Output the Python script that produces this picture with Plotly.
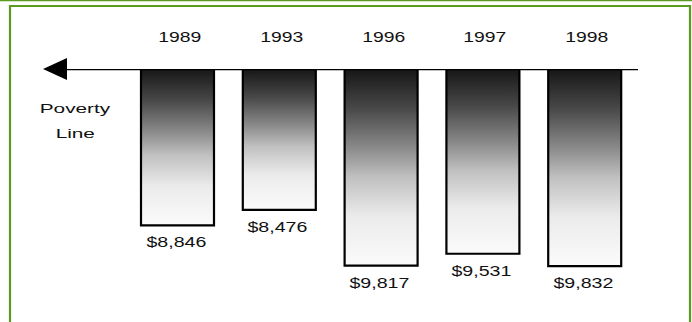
import json
import plotly.graph_objects as go

# Income figures hung from the poverty line
years = ["1989", "1993", "1996", "1997", "1998"]
incomes = [8846, 8476, 9817, 9531, 9832]
poverty_base = 5080          # value at which the poverty line sits on the value axis
value_span = 6096            # value range covered by the plot height

W, H = 692, 322
GREEN = "#5a9a1e"
FONT = "Liberation Sans, Arial, sans-serif"

# horizontal layout: category spacing and bar width, in category units
x_lo, x_hi = -1.7436, 5.0540
half_w = 0.3585

# gradient runs from the bar's bottom end (light) up to the poverty line (dark)
shade = [[0.0, "#fbfbfb"], [0.25, "#ebebeb"], [0.45, "#c0c0c0"],
         [0.6, "#8a8a8a"], [0.8, "#484848"], [1.0, "#161616"]]

fig = go.Figure()
for i, (yr, v) in enumerate(zip(years, incomes)):
    fig.add_trace(go.Scatter(
        x=[i - half_w, i + half_w, i + half_w, i - half_w, i - half_w],
        y=[poverty_base, poverty_base, v, v, poverty_base],
        mode="lines", fill="toself",
        fillgradient=dict(type="vertical", colorscale=shade),
        line=dict(color="black", width=2.2),
        hoverinfo="skip", showlegend=False, name=yr,
    ))

def px(x):
    return x / W

def py(y):
    return 1 - y / H

annotations = []
stretch = []
for i, yr in enumerate(years):
    annotations.append(dict(x=i, y=py(37), xref="x", yref="paper", text=yr,
                            showarrow=False, xshift=2, xanchor="center",
                            yanchor="middle",
                            font=dict(family=FONT, size=15, color="#111")))
    stretch.append(1.29)
for i, v in enumerate(incomes):
    annotations.append(dict(x=i, y=v, xref="x", yref="y", text=f"${v:,}",
                            showarrow=False, xshift=-1.5, yshift=-17,
                            xanchor="center", yanchor="middle",
                            font=dict(family=FONT, size=14, color="#111")))
    stretch.append(1.4)
for word, yy in (("Poverty", 109), ("Line", 133)):
    annotations.append(dict(x=px(75.5), y=py(yy), xref="paper", yref="paper",
                            text=word, showarrow=False, xanchor="center",
                            yanchor="middle",
                            font=dict(family=FONT, size=13, color="#111")))
    stretch.append(1.6)

line_y = 69  # pixel row of the poverty line (top of the value axis domain)
shapes = [
    # green frame
    dict(type="line", xref="paper", yref="paper", x0=0, x1=1, y0=py(0.5), y1=py(0.5),
         line=dict(color=GREEN, width=1.5)),
    dict(type="rect", xref="paper", yref="paper", x0=px(10), x1=px(690),
         y0=-0.1, y1=py(6), line=dict(color=GREEN, width=2.2)),
    # poverty line with arrowhead
    dict(type="line", xref="paper", yref="y", x0=px(60), x1=px(638),
         y0=poverty_base, y1=poverty_base, line=dict(color="black", width=2.3)),
    dict(type="path", xref="paper", yref="paper",
         path=(f"M{px(43)},{py(line_y)} L{px(67)},{py(line_y - 11)} "
               f"L{px(67)},{py(line_y + 11)} Z"),
         fillcolor="black", line=dict(color="black", width=0)),
]

fig.update_layout(
    width=W, height=H, autosize=False,
    margin=dict(l=0, r=0, t=0, b=0, pad=0),
    paper_bgcolor="white", plot_bgcolor="white",
    xaxis=dict(range=[x_lo, x_hi], visible=False, fixedrange=True),
    yaxis=dict(domain=[0, py(line_y)], range=[poverty_base + value_span, poverty_base],
               visible=False, fixedrange=True),
    annotations=annotations, shapes=shapes,
)

# widen the label lettering to the chart's stretched type
post = """
var gd = document.getElementById('{plot_id}');
var f = %s;
gd.querySelectorAll('g.annotation').forEach(function(g){
  var i = +g.getAttribute('data-index');
  var t = g.querySelector('text');
  if (!t || !f[i]) return;
  t.style.transformBox = 'fill-box';
  t.style.transformOrigin = 'center';
  t.style.transform = 'scaleX(' + f[i] + ')';
});
""" % json.dumps(stretch)

fig.write_html("out.html", post_script=post, config={"displayModeBar": False})
